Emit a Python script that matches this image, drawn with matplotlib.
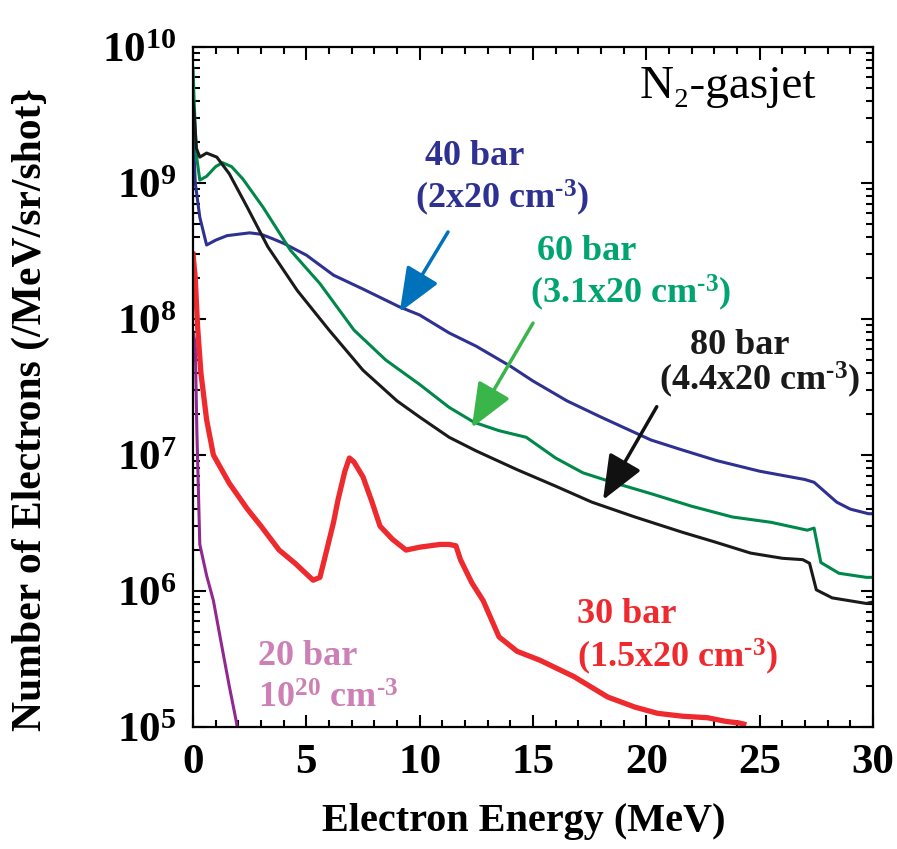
import numpy as np
import matplotlib
matplotlib.use('Agg')
import matplotlib.pyplot as plt
from matplotlib.ticker import MultipleLocator, LogLocator, FixedFormatter, FixedLocator, NullFormatter

plt.rcParams['font.family'] = ['Liberation Serif', 'DejaVu Serif']
plt.rcParams['font.weight'] = 'bold'
plt.rcParams['mathtext.fontset'] = 'custom'
plt.rcParams['mathtext.rm'] = 'Liberation Serif:bold'
plt.rcParams['mathtext.bf'] = 'Liberation Serif:bold'
plt.rcParams['mathtext.it'] = 'Liberation Serif:bold'

# spectra (energy in MeV, counts /MeV/sr/shot)
e40 = [0, 0.1, 0.3, 0.6, 1.0, 1.5, 2.0, 2.5, 3.0, 3.5, 4.0, 5.0, 6.2, 7.5, 9.1, 10.0, 11.3,
       12.5, 14.0, 15.0, 16.5, 18.0, 20.2, 21.5, 23.1, 25.0, 27.0, 27.4, 28.4, 29.0, 29.8, 30]
n40 = [2.5e9, 1.0e9, 5.6e8, 3.5e8, 3.8e8, 4.1e8, 4.2e8, 4.3e8, 4.2e8, 3.9e8, 3.6e8, 2.95e8,
       2.1e8, 1.66e8, 1.23e8, 1.07e8, 7.9e7, 6.3e7, 4.5e7, 3.5e7, 2.5e7, 1.9e7, 1.29e7,
       1.1e7, 9.1e6, 7.6e6, 6.6e6, 6.3e6, 4.5e6, 4.0e6, 3.7e6, 3.7e6]

e60 = [0, 0.05, 0.15, 0.3, 0.6, 1.0, 1.3, 1.7, 2.2, 3.1, 4.3, 5.6, 7.1, 8.5, 10.0, 11.3,
       12.4, 13.5, 14.7, 16.0, 17.2, 18.5, 20.2, 22.0, 23.8, 25.5, 27.1, 27.4, 27.7, 28.5, 29.7, 30]
n60 = [7.0e9, 4.0e9, 1.6e9, 1.05e9, 1.12e9, 1.32e9, 1.41e9, 1.32e9, 1.07e9, 6.6e8, 3.2e8,
       1.82e8, 8.3e7, 5.0e7, 3.3e7, 2.24e7, 1.74e7, 1.51e7, 1.35e7, 9.5e6, 7.4e6, 6.3e6,
       5.2e6, 4.2e6, 3.5e6, 3.2e6, 2.8e6, 2.9e6, 1.62e6, 1.35e6, 1.26e6, 1.26e6]

e80 = [0, 0.05, 0.15, 0.3, 0.6, 1.05, 1.6, 2.4, 3.3, 4.6, 6.0, 7.5, 9.0, 10.0, 11.3, 12.5,
       14.3, 16.0, 17.6, 19.5, 21.6, 23.0, 24.6, 26.0, 26.9, 27.2, 27.5, 28.2, 29.7, 30]
n80 = [4.0e9, 3.2e9, 1.8e9, 1.55e9, 1.66e9, 1.55e9, 1.17e9, 6.6e8, 3.4e8, 1.62e8, 8.3e7,
       4.2e7, 2.5e7, 1.9e7, 1.35e7, 1.07e7, 7.8e6, 5.9e6, 4.5e6, 3.5e6, 2.7e6, 2.3e6,
       1.9e6, 1.74e6, 1.7e6, 1.6e6, 1.02e6, 8.9e5, 8.1e5, 8.3e5]

e30 = [0, 0.1, 0.2, 0.35, 0.6, 0.9, 1.6, 2.4, 3.0, 3.8, 4.5, 5.3, 5.6, 5.9, 6.2, 6.4, 6.7,
       6.9, 7.1, 7.5, 7.9, 8.25, 8.8, 9.4, 10.0, 10.9, 11.3, 11.6, 11.8, 12.3, 12.8, 13.5,
       14.3, 15.3, 16.8, 18.3, 19.5, 20.5, 21.6, 22.7, 23.5, 24.1, 24.3]
n30 = [3.0e8, 2.0e8, 8.9e7, 4.0e7, 1.82e7, 1.0e7, 6.2e6, 4.0e6, 3.0e6, 2.0e6, 1.6e6,
       1.2e6, 1.26e6, 2.0e6, 3.2e6, 4.7e6, 7.6e6, 9.5e6, 8.9e6, 6.9e6, 4.5e6, 3.0e6,
       2.4e6, 2.0e6, 2.1e6, 2.2e6, 2.2e6, 2.15e6, 1.7e6, 1.15e6, 8.5e5, 4.6e5, 3.6e5,
       3.1e5, 2.35e5, 1.66e5, 1.4e5, 1.26e5, 1.2e5, 1.17e5, 1.1e5, 1.07e5, 1.05e5]

e20 = [0, 0.1, 0.17, 0.3, 0.6, 0.9, 1.3, 1.6, 1.9, 2.05]
n20 = [8.0e7, 6.6e7, 1.5e7, 2.2e6, 1.3e6, 8.5e5, 3.7e5, 2.0e5, 1.12e5, 8.0e4]

fig = plt.figure(figsize=(8.97, 8.49), dpi=100)
ax = fig.add_axes([193/897, 1-727/849, 680/897, 680/849])

ax.plot(e20, n20, color='#92278F', lw=2.2)
ax.plot(e30, n30, color='#EE2A2E', lw=3.8)
ax.plot(e40, n40, color='#2E3192', lw=2.2)
ax.plot(e60, n60, color='#00874A', lw=2.2)
ax.plot(e80, n80, color='#1A1A1A', lw=2.2)

ax.set_yscale('log')
ax.set_xlim(0, 30)
ax.set_ylim(1e5, 1e10)

ax.xaxis.set_major_locator(MultipleLocator(5))
ax.xaxis.set_minor_locator(MultipleLocator(1))
ax.yaxis.set_major_locator(FixedLocator([1e5, 1e6, 1e7, 1e8, 1e9, 1e10]))
ax.yaxis.set_major_formatter(FixedFormatter([r'$10^{%d}$' % k for k in range(5, 11)]))
ax.yaxis.set_minor_locator(LogLocator(base=10, subs=np.arange(2, 10), numticks=20))
ax.yaxis.set_minor_formatter(NullFormatter())

ax.tick_params(which='both', direction='in', top=True, right=True, width=1.5)
ax.tick_params(which='major', length=9, labelsize=31, pad=12)
ax.tick_params(which='minor', length=5)
for lab in ax.get_xticklabels():
    lab.set_fontweight('bold')
for s in ax.spines.values():
    s.set_linewidth(1.6)

fig.text(0.584, 1-822/849, 'Electron Energy (MeV)', ha='center', va='center',
         fontsize=29, fontweight='bold')
fig.text(0.034, 1-410/849, 'Number of Electrons (/MeV/sr/shot}', ha='center', va='center',
         rotation=90, fontsize=30, fontweight='bold')

ax.text(0.657, 0.925, 'N\u2082-gasjet', transform=ax.transAxes, fontsize=34,
        fontweight='normal', ha='left', va='baseline')

kw = dict(transform=ax.transAxes, fontsize=26, fontweight='bold', ha='left', va='baseline')
sup = r'$^{\text{-}3}$'
ax.text(0.341, 0.826, '40 bar', color='#2E3192', **kw)
ax.text(0.326, 0.763, '(2x20 cm' + sup + ')', color='#2E3192', **kw)
ax.text(0.506, 0.687, '60 bar', color='#00A470', **kw)
ax.text(0.496, 0.624, '(3.1x20 cm' + sup + ')', color='#00A470', **kw)
ax.text(0.731, 0.548, '80 bar', color='#1A1A1A', **kw)
ax.text(0.685, 0.496, '(4.4x20 cm' + sup + ')', color='#1A1A1A', **kw)
ax.text(0.565, 0.153, '30 bar', color='#EE2A2E', **kw)
ax.text(0.565, 0.088, '(1.5x20 cm' + sup + ')', color='#EE2A2E', **kw)
ax.text(0.096, 0.091, '20 bar', color='#CC80B6', **kw)
ax.text(0.096, 0.028, r'10$^{20}$ cm' + sup, color='#CC80B6', **kw)

arrows = [((0.375, 0.728), (0.304, 0.610), '#0072BC'),
          ((0.500, 0.594), (0.410, 0.440), '#39B54A'),
          ((0.682, 0.471), (0.603, 0.334), '#111111')]
for tail, tip, c in arrows:
    ax.annotate('', xy=tip, xytext=tail, xycoords='axes fraction', textcoords='axes fraction',
                arrowprops=dict(arrowstyle='-|>,head_length=1.1,head_width=0.45', color=c,
                                lw=2.5, mutation_scale=25, shrinkA=0, shrinkB=0))

fig.savefig('out.png', dpi=100)
